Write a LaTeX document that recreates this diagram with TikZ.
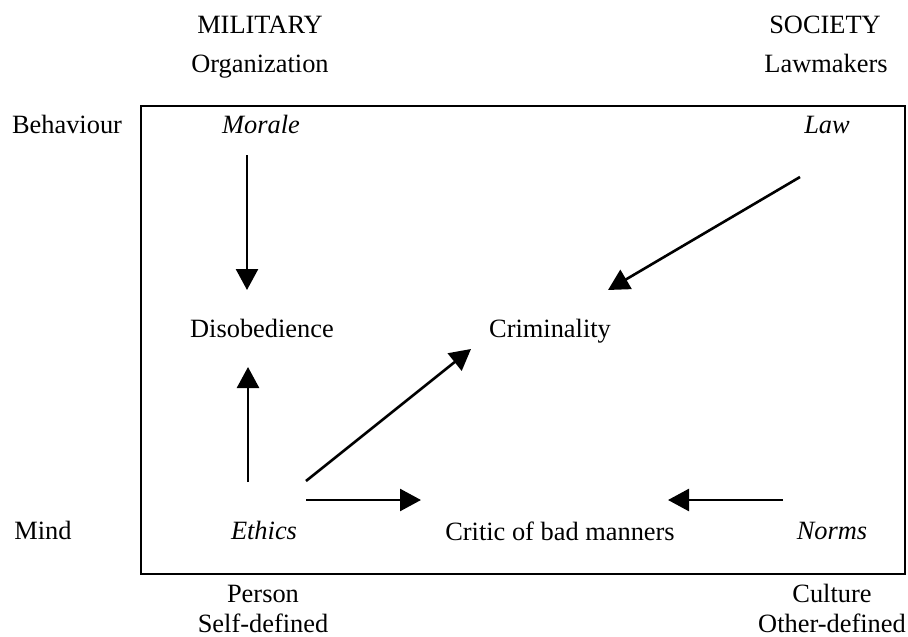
\documentclass[tikz,border=0pt]{standalone}
\usepackage{fontspec}
\setmainfont{Liberation Serif}
\usetikzlibrary{arrows.meta}

\begin{document}
\begin{tikzpicture}[x=1pt,y=-1pt,
    every node/.style={font=\fontsize{26.4}{30}\selectfont, inner sep=0pt, anchor=base},
    arr/.style={line width=2.6pt, -{Triangle[length=21pt,width=22pt]}}]
      \useasboundingbox (0,0) rectangle (908,637);

      % headings
      \node (mil) at (260,33) {MILITARY};
      \node (org) at (260,72) {Organization};
      \node (soc) at (825,33) {SOCIETY};
      \node (lawm) at (826,72) {Lawmakers};
      \node (beh) at (67,133) {Behaviour};
      \node (mind) at (43,539) {Mind};
      \node (pers) at (263,602) {Person};
      \node (self) at (263,632) {Self-defined};
      \node (cult) at (832,602) {Culture};
      \node (other) at (832,632) {Other-defined};

      \draw[line width=1.6pt] (141,106) rectangle (905,574);

      % inside the box
      \node (morale) at (261,133) {\itshape Morale};
      \node (law) at (827,133) {\itshape Law};
      \node (dis) at (262,337) {Disobedience};
      \node (crim) at (550,337) {Criminality};
      \node (eth) at (264,539) {\itshape Ethics};
      \node (crit) at (560,540) {Critic of bad manners};
      \node (norms) at (832,539) {\itshape Norms};

      \coordinate (M) at (247,155);
      \coordinate (D1) at (247,290);
      \coordinate (E1) at (248,482);
      \coordinate (D2) at (248,367);
      \coordinate (E2) at (306,481);
      \coordinate (C1) at (471,349);
      \coordinate (E3) at (306,500);
      \coordinate (K1) at (421,500);
      \coordinate (N) at (783,500);
      \coordinate (K2) at (668,500);
      \coordinate (L) at (800,177);
      \coordinate (C2) at (608,290);

      \draw[arr] (M) -- (D1);
      \draw[arr] (E1) -- (D2);
      \draw[arr] (E2) -- (C1);
      \draw[arr] (E3) -- (K1);
      \draw[arr] (N) -- (K2);
      \draw[arr] (L) -- (C2);
\end{tikzpicture}
\end{document}
